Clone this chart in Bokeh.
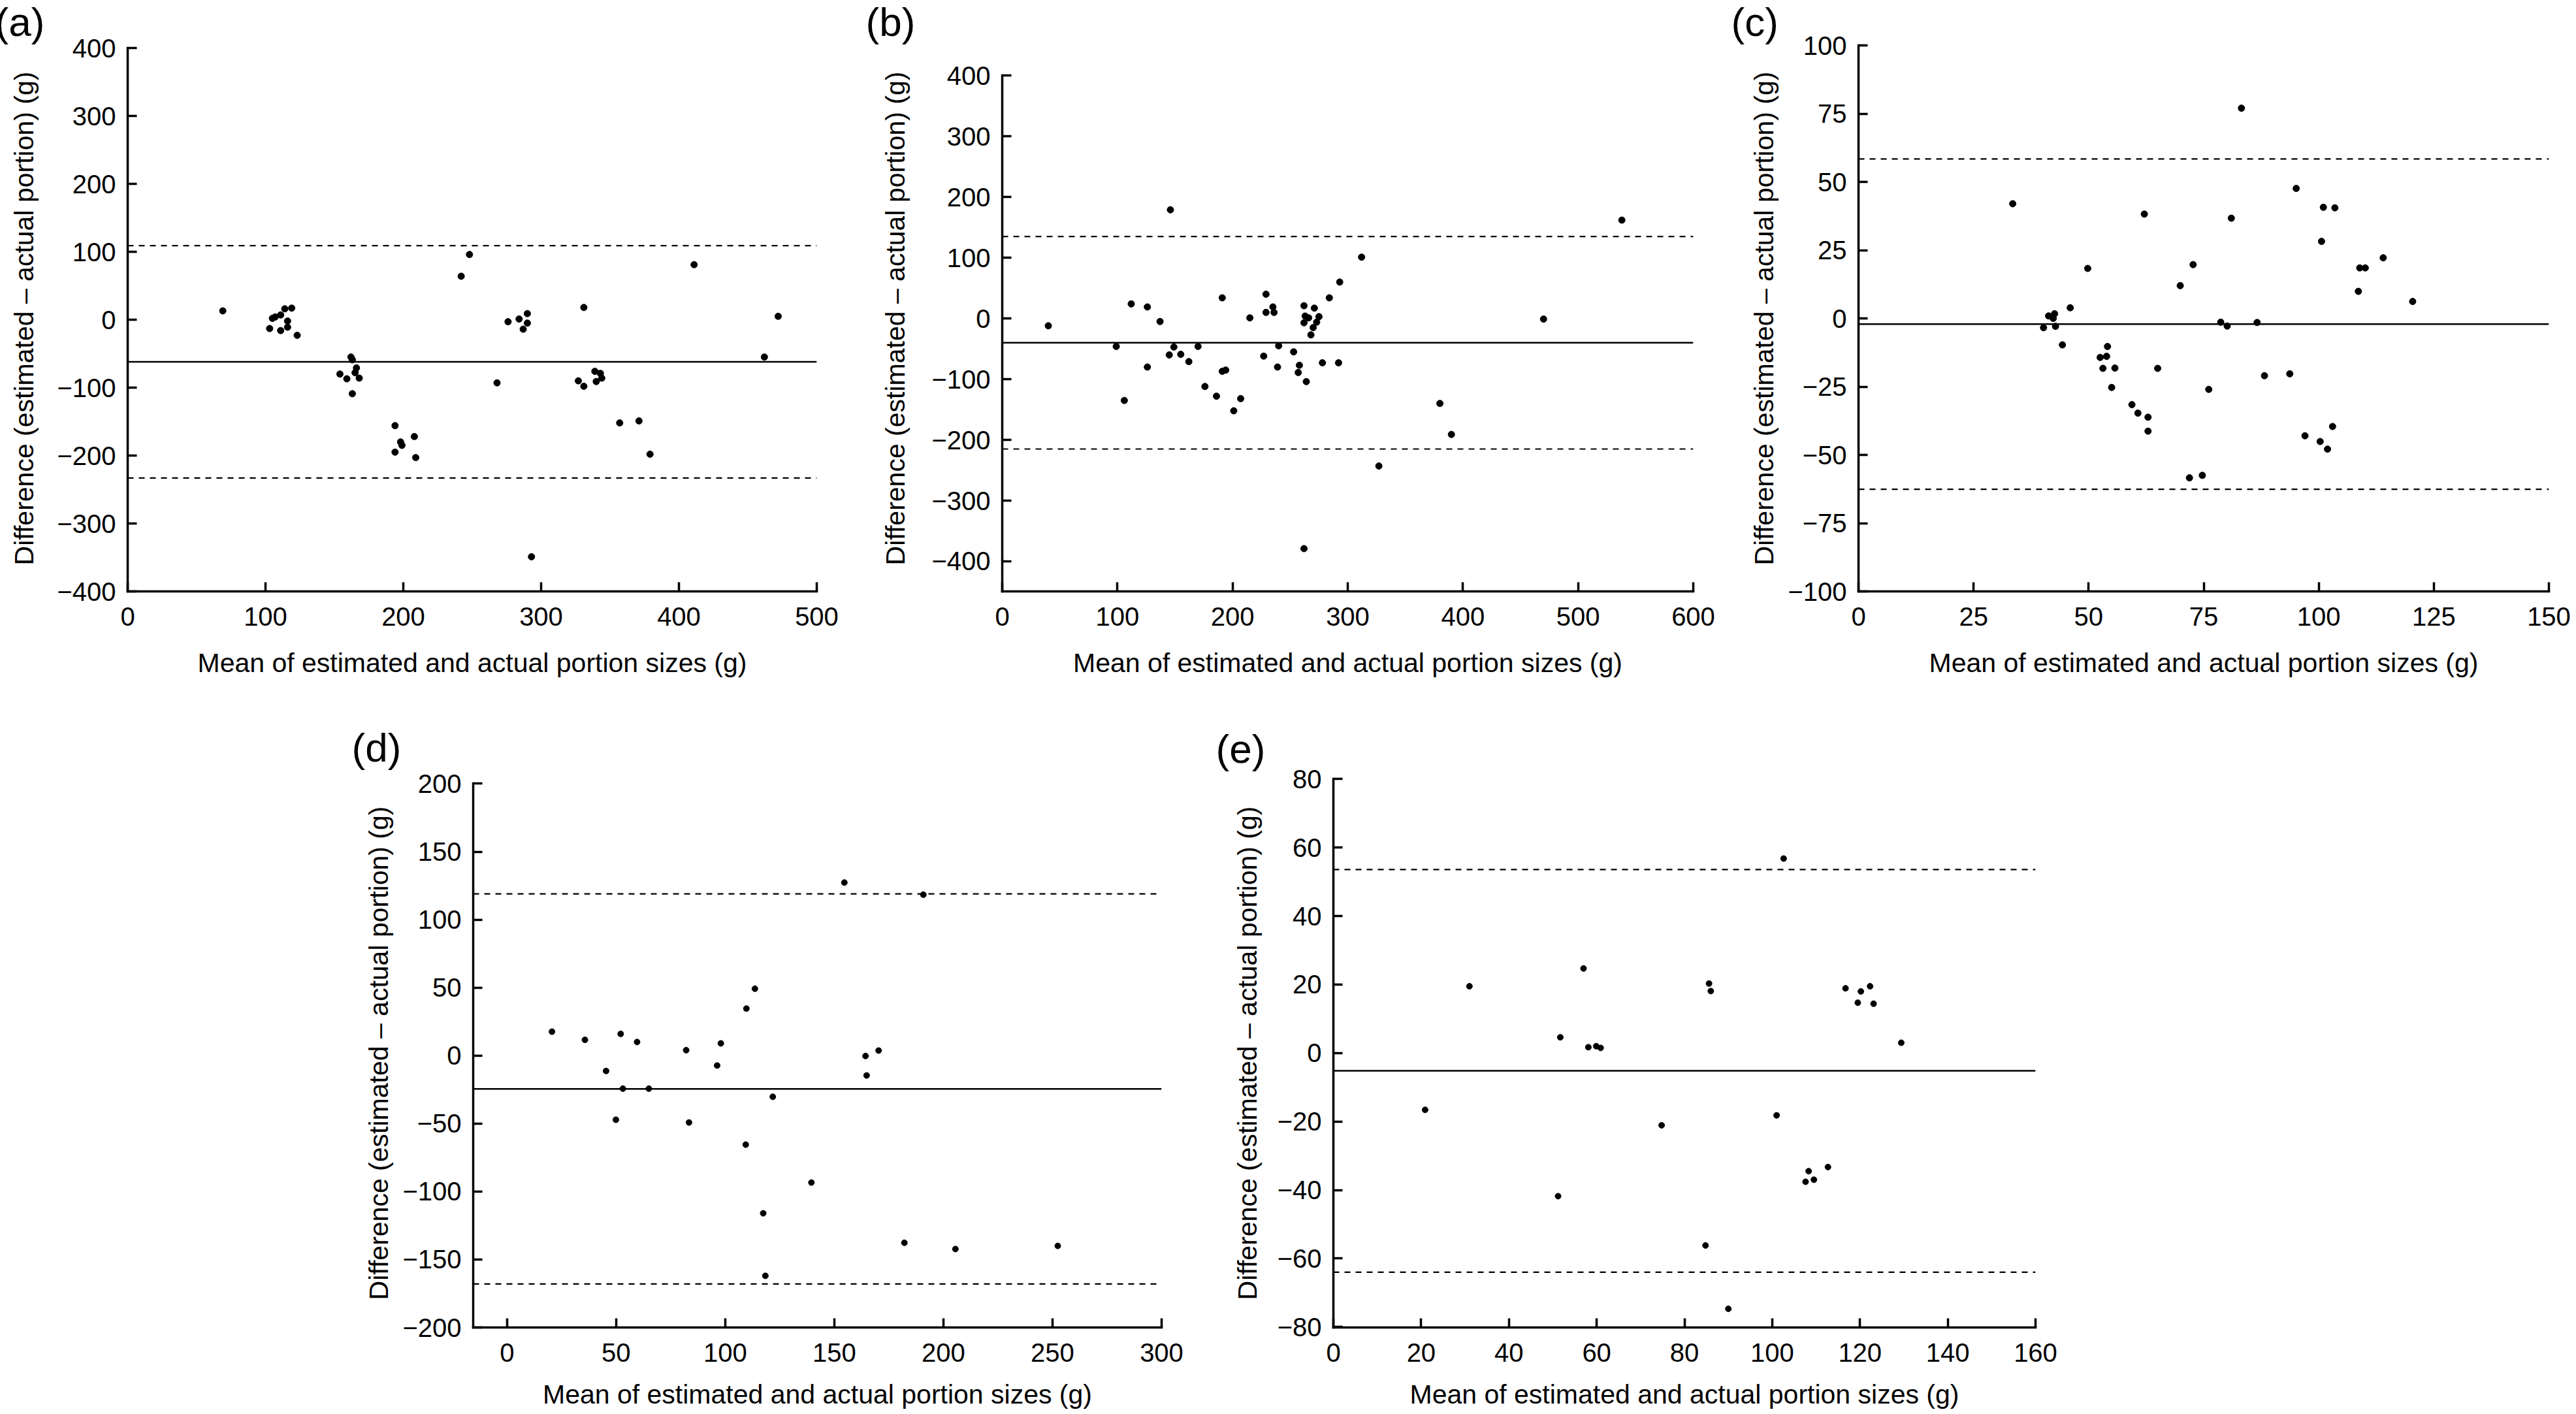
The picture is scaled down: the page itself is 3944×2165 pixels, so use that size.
from bokeh.plotting import figure
from bokeh.layouts import column, row, Spacer
from bokeh.models import Span, FixedTicker, Range1d, Title
from bokeh.embed import file_html
from bokeh.resources import INLINE

FONT = "Liberation Sans"
X_TITLE = "Mean of estimated and actual portion sizes (g)"
Y_TITLE = "Difference (estimated \u2013 actual portion) (g)"

# ---------------- data ----------------
a_x = [69, 103, 105, 107, 111, 111, 114, 116, 116, 119, 123, 154, 159, 162, 163, 163, 165, 166, 168, 194,
       194, 198, 199, 208, 209, 242, 248, 268, 276, 284, 287, 290, 290, 293, 327, 331, 331, 339, 340, 343,
       344, 357, 371, 379, 411, 462, 472]
a_y = [13, -13, 2, 4, -16, 7, 16, -2, -11, 17, -23, -80, -87, -55, -59, -109, -78, -71, -86, -156,
       -195, -180, -185, -172, -203, 64, 96, -93, -3, 1, -14, 9, -5, -349, -90, -98, 18, -76, -91, -79,
       -86, -152, -149, -198, 81, -55, 5]
a_lines = [-62, 109, -233]          # mean, upper LoA, lower LoA
a_xticks = [0, 100, 200, 300, 400, 500]
a_yticks = [-400, -300, -200, -100, 0, 100, 200, 300, 400]

b_x = [40, 99, 106, 112, 126, 126, 137, 145, 146, 149, 155, 162, 170, 176, 186, 191, 191, 194, 201, 207,
       215, 227, 229, 229, 235, 236, 240, 239, 253, 257, 258, 262, 262, 263, 262, 264, 266, 268, 270, 271,
       273, 275, 278, 284, 292, 293, 312, 327, 380, 390, 470, 538]
b_y = [-12, -46, -135, 24, 19, -80, -5, -60, 179, -47, -59, -71, -46, -112, -128, 34, -87, -85, -152, -132,
       1, -62, 40, 10, 19, 10, -45, -80, -55, -89, -77, -7, 21, 4, -379, -104, 1, -27, -15, 17,
       -6, 3, -73, 34, -73, 60, 101, -243, -140, -191, -1, 162]
b_lines = [-40, 135, -215]
b_xticks = [0, 100, 200, 300, 400, 500, 600]
b_yticks = [-400, -300, -200, -100, 0, 100, 200, 300, 400]

c_x = [33.5, 40.2, 41.3, 42.3, 42.6, 42.8, 44.3, 46.0, 49.8, 52.5, 53.1, 53.9, 54.1, 55.0, 55.7, 59.4,
       60.7, 62.1, 62.9, 62.9, 65.0, 69.9, 71.9, 72.7, 74.7, 76.1, 78.7, 80.1, 81.0, 83.2, 86.6, 88.2,
       93.7, 95.1, 97.0, 100.3, 100.6, 101.0, 101.9, 103.0, 103.5, 108.6, 108.9, 110.1, 114.0, 120.4]
c_y = [42, -3.4, 0.9, 0, 1.7, -2.9, -9.7, 3.9, 18.3, -14.3, -18.3, -13.9, -10.3, -25.3, -18.2, -31.6,
       -34.7, 38.2, -36.2, -41.3, -18.3, 12, -58.4, 19.7, -57.5, -26, -1.4, -2.8, 36.7, 77, -1.5, -21,
       -20.3, 47.6, -43, -45.1, 28.2, 40.7, -47.9, -39.6, 40.5, 9.9, 18.5, 18.5, 22.2, 6.2]
c_lines = [-2.1, 58.4, -62.6]
c_xticks = [0, 25, 50, 75, 100, 125, 150]
c_yticks = [-100, -75, -50, -25, 0, 25, 50, 75, 100]

d_x = [20.6, 35.7, 45.4, 49.9, 52.1, 53.1, 59.6, 65, 82.1, 83.4, 96.3, 98, 109.4, 109.7, 113.6, 117.4,
       118.4, 121.8, 139.5, 154.6, 164.3, 164.8, 170.3, 182.1, 190.8, 205.5, 252.4]
d_y = [17.6, 11.6, -11.3, -47.2, 16, -24.3, 10, -24.3, 4, -49.2, -7.3, 9, -65.5, 34.6, 49.2, -116,
       -162, -30.3, -93.4, 127.3, -0.3, -14.6, 3.7, -137.7, 118.4, -142.3, -140]
d_lines = [-24.5, 119, -168]
d_xticks = [0, 50, 100, 150, 200, 250, 300]
d_yticks = [-200, -150, -100, -50, 0, 50, 100, 150, 200]

e_x = [20.9, 31, 51.2, 51.7, 57, 58.1, 59.9, 60.9, 74.8, 84.8, 85.6, 86, 90, 101, 102.6, 107.6,
       108.3, 109.5, 112.7, 116.7, 119.5, 120.2, 122.3, 123.1, 129.4]
e_y = [-16.6, 19.5, -41.8, 4.6, 24.7, 1.7, 2, 1.5, -21.1, -56.2, 20.3, 18.1, -74.7, -18.2, 56.8, -37.6,
       -34.5, -37, -33.3, 18.9, 14.7, 18, 19.5, 14.4, 3]
e_lines = [-5.2, 53.6, -64]
e_xticks = [0, 20, 40, 60, 80, 100, 120, 140, 160]
e_yticks = [-80, -60, -40, -20, 0, 20, 40, 60, 80]


def tick_label(v):
    return f"{v:g}".replace("-", "\u2212")


def make_panel(tag, xs, ys, lines, xticks, yticks, xr, yr, ybounds, geom,
               ysd, xsd, tag_offset, tag_standoff, dot):
    left, fw, right, top, fh, bottom = geom
    p = figure(frame_width=fw, frame_height=fh,
               min_border_left=left, min_border_right=right,
               min_border_top=top, min_border_bottom=bottom,
               x_range=Range1d(*xr), y_range=Range1d(*yr),
               toolbar_location=None, output_backend="svg",
               background_fill_color="white", border_fill_color="white",
               title=Title(text=tag, align="left", offset=tag_offset,
                           standoff=tag_standoff, text_font=FONT,
                           text_font_size="62px", text_font_style="normal",
                           text_color="black"))
    p.outline_line_color = None
    p.xgrid.visible = False
    p.ygrid.visible = False

    mean, upper, lower = lines
    for loc in (upper, lower):
        p.add_layout(Span(location=loc, dimension="width", line_color="black",
                          line_width=2.2, line_dash="9 8"))
    p.add_layout(Span(location=mean, dimension="width", line_color="black", line_width=2.5))

    p.scatter(xs, ys, size=dot, color="black", line_color="black")

    p.xaxis.ticker = FixedTicker(ticks=xticks)
    p.yaxis.ticker = FixedTicker(ticks=yticks)
    p.xaxis.major_label_overrides = {t: tick_label(t) for t in xticks}
    p.yaxis.major_label_overrides = {t: tick_label(t) for t in yticks}
    p.yaxis.bounds = ybounds
    p.xaxis.axis_label = X_TITLE
    p.yaxis.axis_label = Y_TITLE
    for ax in (p.xaxis[0], p.yaxis[0]):
        ax.axis_line_width = 3.5
        ax.axis_line_color = "black"
        ax.axis_line_cap = "square"
        ax.major_tick_line_width = 3.5
        ax.major_tick_line_color = "black"
        ax.major_tick_in = 14
        ax.major_tick_out = 0
        ax.minor_tick_line_color = None
        ax.major_label_text_font = FONT
        ax.major_label_text_font_size = "40px"
        ax.major_label_text_color = "black"
        ax.axis_label_text_font = FONT
        ax.axis_label_text_font_size = "41px"
        ax.axis_label_text_font_style = "normal"
        ax.axis_label_text_color = "black"
    p.yaxis.major_label_standoff = 18
    p.yaxis.axis_label_standoff = ysd
    p.xaxis.major_label_standoff = 24
    p.xaxis.axis_label_standoff = xsd
    return p


# layout is pulled over the page margin (see styles below), so it starts at page (0, 0)
# top row: frames share top (77) and bottom (913)
pa = make_panel("(a)", a_x, a_y, a_lines, a_xticks, a_yticks, (0, 500), (-400, 403.85), (-400, 400),
                (203, 1055, 42, 77, 836, 167), 24, 31, -203, 4, 10)
pb = make_panel("(b)", b_x, b_y, b_lines, b_xticks, b_yticks, (0, 600), (-449.5, 449.8), (-449.5, 400),
                (242, 1058, 40, 77, 836, 167), 29, 31, -209, 4, 10)
pc = make_panel("(c)", c_x, c_y, c_lines, c_xticks, c_yticks, (0, 150), (-100, 100), (-100, 100),
                (213, 1057, 34, 77, 836, 167), 10, 31, -195, 4, 10)
# bottom row: frames share top (1200) and bottom (2040)
pd = make_panel("(d)", d_x, d_y, d_lines, d_xticks, d_yticks, (-15.5, 300), (-200, 203.6), (-200, 200),
                (212, 1054, 54, 120, 840, 125), 10, 24, -186, 28, 9)
pe = make_panel("(e)", e_x, e_y, e_lines, e_xticks, e_yticks, (0, 160), (-80.15, 80.08), (-80.15, 80),
                (209, 1075, 40, 120, 840, 125), 20, 24, -180, 24, 9)

layout = column(row(pa, pb, pc), row(Spacer(width=520, height=10), pd, pe),
                styles={"margin": "-8px"})

open("out.html", "w").write(file_html(layout, INLINE))
